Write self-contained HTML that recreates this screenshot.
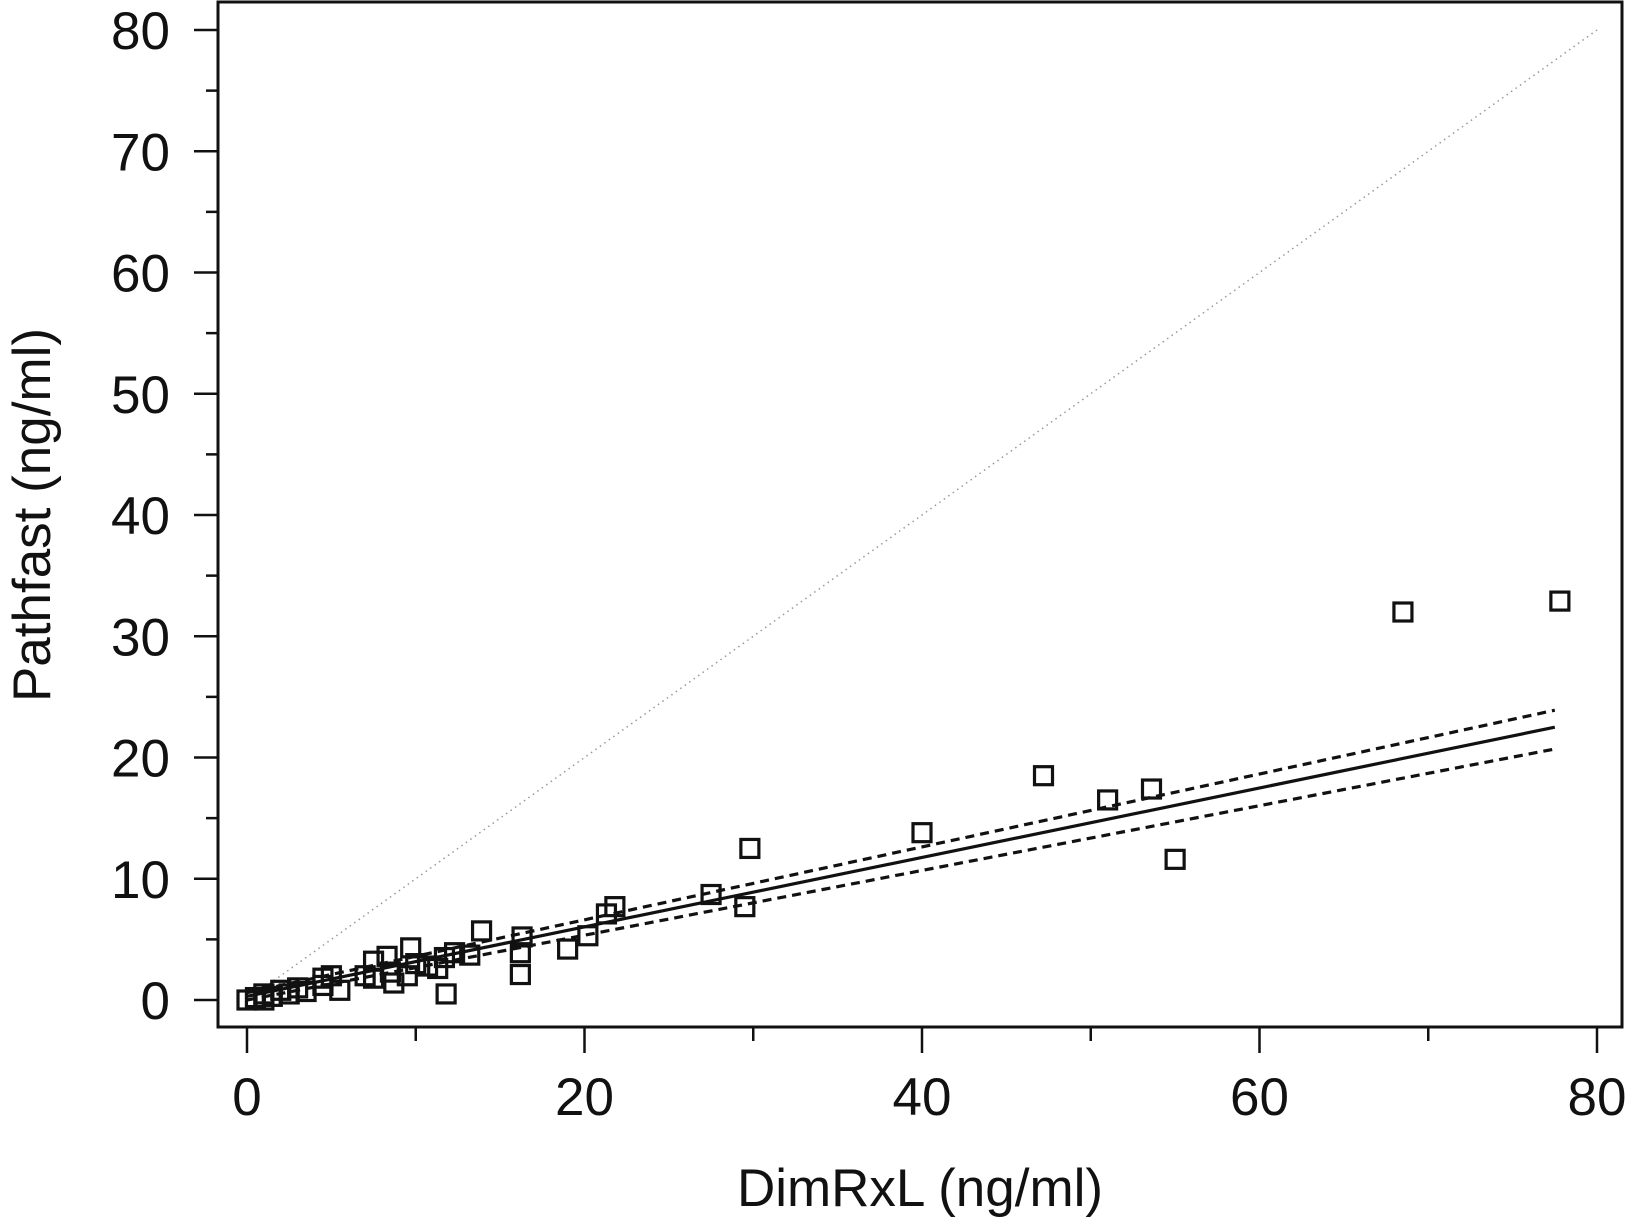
<!DOCTYPE html>
<html><head><meta charset="utf-8"><style>
body{margin:0;background:#fff}
svg text{font-family:"Liberation Sans",sans-serif;fill:#111}
</style></head><body>
<svg id="chart" width="1625" height="1224" xmlns="http://www.w3.org/2000/svg">
<text x="920" y="1206" font-size="53" text-anchor="middle">DimRxL (ng/ml)</text>
<text transform="translate(50,515) rotate(-90)" font-size="53" text-anchor="middle">Pathfast (ng/ml)</text>
</svg>
<script>
const xs=[0,0.5,1,1,1.5,2,2.5,3,3.5,4.5,4.5,5,5.5,7,7.5,7.5,8.3,8.5,8.7,9.5,9.7,10,10.7,11.3,11.8,11.7,12.3,13.2,13.9,16.3,16.2,16.2,19,20.2,21.3,21.8,27.5,29.5,29.8,40,47.2,51,53.6,55,68.5,77.8];
const ys=[0,0.2,0.5,0,0.3,0.8,0.5,1,0.7,1.8,1.2,2,0.8,2,3.2,1.8,3.6,2.3,1.4,2,4.3,3,2.8,2.6,0.5,3.5,3.9,3.7,5.7,5.2,3.9,2.1,4.2,5.3,7.1,7.7,8.7,7.7,12.5,13.8,18.5,16.5,17.4,11.6,32,32.9];
const xTicks=[0,20,40,60,80];
const yTicks=[0,10,20,30,40,50,60,70,80];
const fitStart=[0,0.3], fitEnd=[77.5,22.5];
const upStart=[0,0.6], upEnd=[77.5,23.9];
const loStart=[0,0.0], loEnd=[77.5,20.7];
const X=v=>247+v*16.875, Y=v=>1000-v*12.125;
const svg=document.getElementById('chart'), NS='http://www.w3.org/2000/svg';
function mk(t,a,p){const e=document.createElementNS(NS,t);for(const k in a)e.setAttribute(k,a[k]);(p||svg).appendChild(e);return e;}
const frame=mk('rect',{x:218,y:2,width:1404,height:1025,fill:'none',stroke:'#111','stroke-width':3});


for(let v=0;v<=80;v+=5){const major=v%10===0;const l=mk('line',{x1:major?194:206,x2:218,y1:Y(v),y2:Y(v),stroke:'#111','stroke-width':2.5});

}
yTicks.forEach(v=>{const t=mk('text',{x:170,y:Y(v)+19,'font-size':53,'text-anchor':'end'});t.textContent=v;

});
for(let v=0;v<=80;v+=10){const major=v%20===0;const l=mk('line',{x1:X(v),x2:X(v),y1:1027,y2:major?1053:1041,stroke:'#111','stroke-width':2.5});

}
xTicks.forEach(v=>{const t=mk('text',{x:X(v),y:1115,'font-size':53,'text-anchor':'middle'});t.textContent=v;

});
const id=mk('line',{x1:X(0),y1:Y(0),x2:X(80),y2:Y(80),stroke:'#999','stroke-width':1.5,'stroke-dasharray':'1.5 4'});


[[fitStart,fitEnd,'',3.2,'regression-line'],[upStart,upEnd,'9 6',3.2,'upper-ci-line'],[loStart,loEnd,'9 6',3.2,'lower-ci-line']].forEach(([a,b,d,w,n])=>{
const l=mk('line',{x1:X(a[0]),y1:Y(a[1]),x2:X(b[0]),y2:Y(b[1]),stroke:'#111','stroke-width':w,'stroke-dasharray':d});

});
xs.forEach((x,i)=>{const r=mk('rect',{x:X(x)-9,y:Y(ys[i])-9,width:18,height:18,fill:'none',stroke:'#111','stroke-width':3.2});

});
</script>
</body></html>
